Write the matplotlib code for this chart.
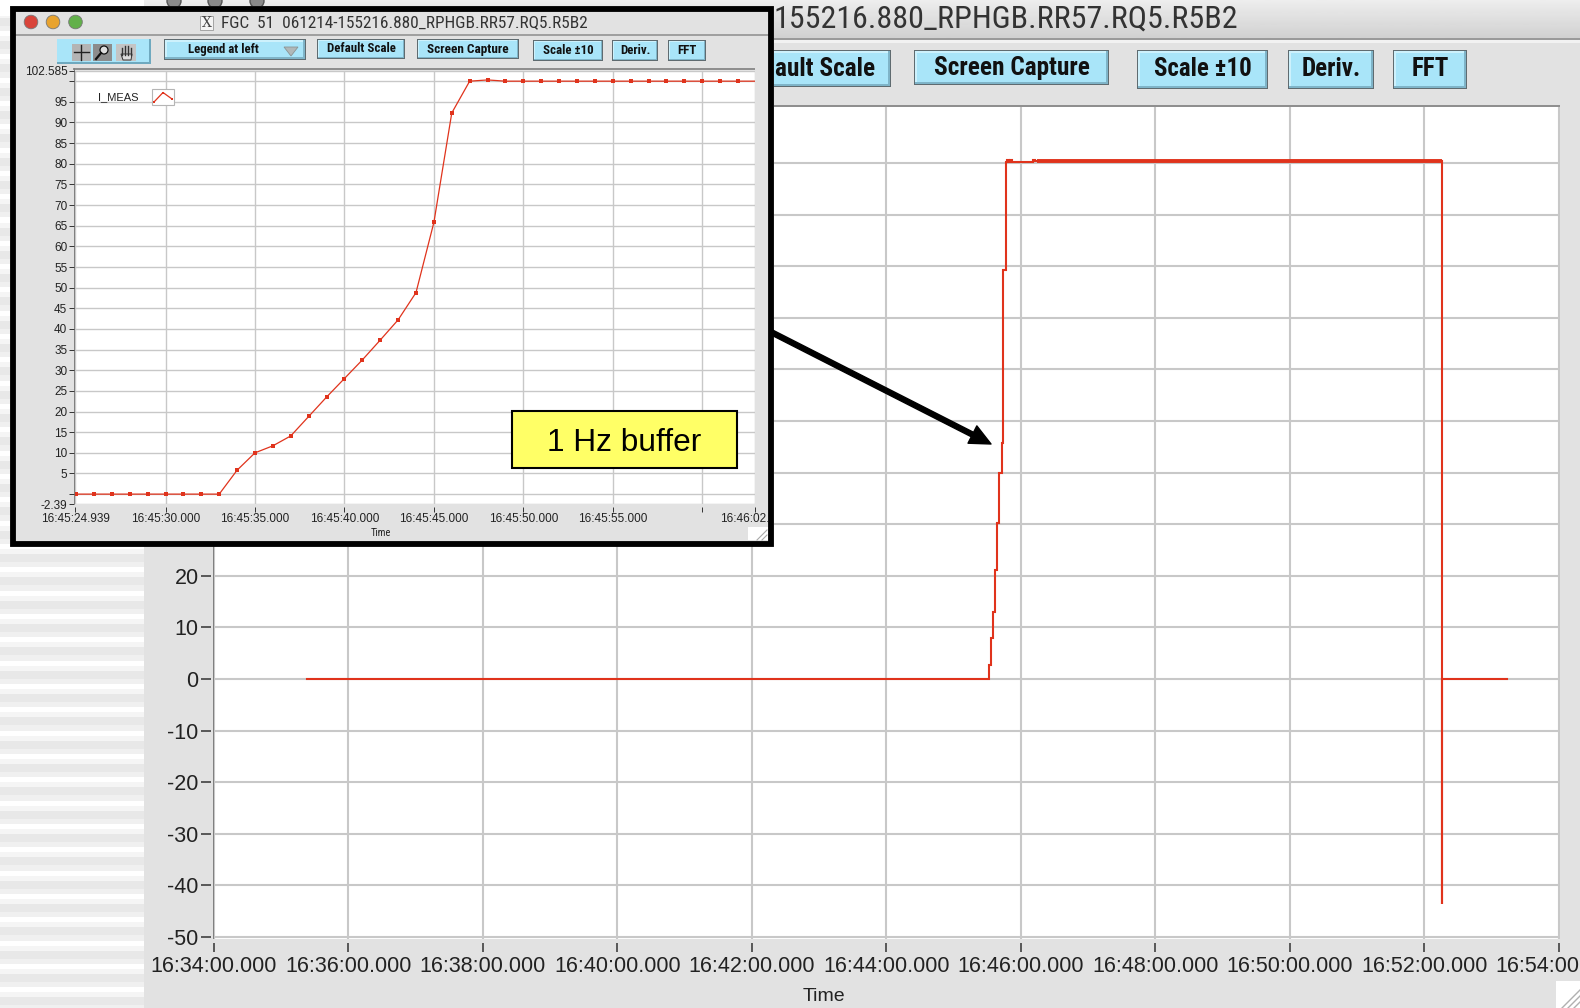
import numpy as np
import matplotlib
matplotlib.use('Agg')
import matplotlib.pyplot as plt
from matplotlib.patches import Rectangle, Circle, Polygon
from matplotlib.transforms import Bbox

plt.rcParams['font.family'] = ['Liberation Sans', 'DejaVu Sans']
NARROW = ['Roboto Condensed', 'Liberation Sans', 'DejaVu Sans']

W, H = 1580, 1008

# long record, seconds after 16:34:00
long_t = [83, 691.4, 693.7, 695.3, 696.8, 698.9, 700.6, 702.8, 704.4, 706.4, 707.5, 709.3, 710.6, 712.4, 715.5, 730.7, 732.5, 1096, 1096, 1154]
long_i = [0, 2.7, 7.9, 13, 21.1, 30.2, 40, 45.7, 79.3, 100.2, 100.6, 100.2, 100.6, 100.2, 100.2, 100.6, 100.4, -43.6, 0, 0]
thick_t = [734.3, 1096]
thick_i = [100.4, 100.4]

long_xticks = [0, 120, 240, 360, 480, 600, 720, 840, 960, 1080, 1200]
long_xlabels = ['16:34:00.000', '16:36:00.000', '16:38:00.000', '16:40:00.000', '16:42:00.000', '16:44:00.000',
                '16:46:00.000', '16:48:00.000', '16:50:00.000', '16:52:00.000', '16:54:00.000']
long_yticks = [-50, -40, -30, -20, -10, 0, 10, 20, 30, 40, 50, 60, 70, 80, 90, 100]
long_ylabels = ['-50', '-40', '-30', '-20', '-10', '0', '10', '20', '', '', '', '', '', '', '', '']

# 1 Hz buffer, seconds after 16:45:00
buf_t = [25, 26, 27, 28, 29, 30, 31, 32, 33, 34, 35, 36, 37, 38, 39, 40, 41, 42, 43, 44, 45, 46, 47, 48, 49, 50, 51, 52, 53, 54, 55, 56, 57, 58, 59, 60, 61, 62, 63]
buf_i = [0, 0, 0, 0, 0, 0, 0, 0, 0, 5.8, 10, 11.7, 14.1, 18.8, 23.5, 28, 32.5, 37.3, 42.2, 48.8, 65.8, 92.3, 100, 100.3, 100, 100, 100, 100, 100, 100, 100, 100, 100, 100, 100, 100, 100, 100, 100]

buf_xticks = [24.939, 30, 35, 40, 45, 50, 55, 60, 62.95]
buf_xlabels = ['16:45:24.939', '16:45:30.000', '16:45:35.000', '16:45:40.000', '16:45:45.000', '16:45:50.000',
               '16:45:55.000', '', '16:46:02.950']
buf_yticks = [-2.39, 0, 5, 10, 15, 20, 25, 30, 35, 40, 45, 50, 55, 60, 65, 70, 75, 80, 85, 90, 95, 100, 102.585]
buf_ylabels = ['-2.39', '', '5', '10', '15', '20', '25', '30', '35', '40', '45', '50', '55', '60', '65', '70', '75',
               '80', '85', '90', '95', '', '102.585']

RED = '#e0331c'
GRID = '#c8c8c8'
PANEL = '#e2e2e2'


def px_axes(x0, y0, x1, y1, z):
    return fig.add_axes([x0 / W, 1 - y1 / H, (x1 - x0) / W, (y1 - y0) / H], zorder=z)


def full_axes(z):
    a = px_axes(0, 0, W, H, z)
    a.set_xlim(0, W)
    a.set_ylim(H, 0)
    a.axis('off')
    a.patch.set_alpha(0)
    return a


def grad(a, x0, y0, x1, y1, v0, v1, vertical=False):
    g = np.linspace(v0, v1, 32)
    g = g[:, None] if vertical else g[None, :]
    a.imshow(g, extent=(x0, x1, y1, y0), aspect='auto', cmap='gray', vmin=0, vmax=1, interpolation='bilinear')
    a.set_xlim(0, W)
    a.set_ylim(H, 0)


def box(a, x0, y0, x1, y1, fc, ec='none', lw=0):
    a.add_patch(Rectangle((x0, y0), x1 - x0, y1 - y0, fc=fc, ec=ec, lw=lw))


def button(a, x0, y0, x1, y1, label, size, lab_x=None, bevel=2):
    box(a, x0, y0, x1, y1, '#5f6b70')
    box(a, x0 + 1, y0 + 1, x1 - 1, y1 - 1, '#7fb4c8')
    box(a, x0 + 1, y0 + 1, x1 - 1 - bevel, y1 - 1 - bevel, '#cdf1fc')
    box(a, x0 + 1 + bevel, y0 + 1 + bevel, x1 - 1 - bevel, y1 - 1 - bevel, '#a9e5f9')
    a.text((x0 + x1) / 2 if lab_x is None else lab_x, (y0 + y1) / 2, label, ha='center', va='center',
           fontsize=size, fontweight='bold', family=NARROW, color='#111111')


fig = plt.figure(figsize=(W / 100, H / 100), dpi=100, facecolor='white')

# desktop and the big window behind everything
back = full_axes(0)
for y in np.arange(-15.8, H, 23.33):
    box(back, 0, y, 144, y + 5, '#ffffff')
    box(back, 0, y + 5, 144, y + 10, '#f5f5f5')
    box(back, 0, y + 10, 144, y + 18, '#e8e8e8')
    box(back, 0, y + 18, 144, y + 23.33, '#f0f0f0')
box(back, 0, 0, 144, 16, '#ffffff')
grad(back, 144, 0, 1580, 38, 0.93, 0.82, vertical=True)
box(back, 144, 38, 1580, 40, '#9a9a9a')
box(back, 144, 40, 1580, 43, '#f2f2f2')
box(back, 144, 43, 1580, H, PANEL)
grad(back, 144, 43, 166, H, 0.97, 0.89)
grad(back, 1560, 42, 1580, H, 0.88, 0.66)
box(back, 212, 105, 1560, 108, '#8f8f8f')
box(back, 213, 105, 215, 939, '#808080')
box(back, 1556, 981, 1580, 1008, '#ffffff')
for d in (6, 12, 18):
    back.plot([1580 - d, 1580], [1008, 1008 - d], color='#b0b0b0', lw=1)
for cx in (174, 215, 257):
    back.add_patch(Circle((cx, 1), 7, fc='#8a8a8a', ec='#555555', lw=1))
back.text(773, 19, '155216.880_RPHGB.RR57.RQ5.R5B2', ha='left', va='center', fontsize=23, family=NARROW, color='#333333')
button(back, 770, 50, 891, 87, 'ault Scale', 18.3, lab_x=825)
button(back, 914, 50, 1109, 85, 'Screen Capture', 18.3)
button(back, 1137, 50, 1268, 89, 'Scale ±10', 18)
button(back, 1288, 50, 1374, 89, 'Deriv.', 18)
button(back, 1393, 50, 1467, 89, 'FFT', 18)

# long record
ax = px_axes(214, 107, 1560, 939, 1)
ax.set_xlim(0, 1201)
ax.set_ylim(-50.4, 110.85)
ax.grid(True, color=GRID, lw=1.5)
ax.set_axisbelow(True)
ax.plot(long_t, long_i, color=RED, lw=1.5, drawstyle='steps-post', solid_joinstyle='miter')
ax.plot(thick_t, thick_i, color=RED, lw=2.8, solid_capstyle='butt')
ax.set_xticks(long_xticks, long_xlabels)
ax.set_yticks(long_yticks, long_ylabels)
ax.tick_params(axis='x', length=6.5, width=1.1, color='#333333', labelsize=15.5, labelcolor='#222222', pad=3)
ax.tick_params(axis='y', length=7, width=1.1, color='#333333', labelsize=15.5, labelcolor='#222222', pad=2)
for s in ax.spines.values():
    s.set_visible(False)
ax.spines['bottom'].set_position(('outward', 3))
ax.spines['left'].set_position(('outward', 2))
ax.set_xlabel('Time', fontsize=14, color='#222222', labelpad=4)
ax.xaxis.set_label_coords((824 - 214) / 1346, -49 / 832)

# the small window on top
win = full_axes(2)
box(win, 10, 6, 774, 546, PANEL)
grad(win, 14, 12, 770, 36, 0.93, 0.82, vertical=True)
box(win, 14, 34, 770, 35.5, '#a0a0a0')
grad(win, 14, 36, 24, 540, 0.98, 0.89)
grad(win, 755, 36, 768, 540, 0.89, 0.66)
box(win, 73, 68, 755, 70, '#8f8f8f')
box(win, 73.5, 68, 75, 504, '#808080')
for cx, col in ((31, '#d9443a'), (53, '#e8a32e'), (75.5, '#62b04a')):
    win.add_patch(Circle((cx, 22), 6.8, fc=col, ec='#777777', lw=0.6))
box(win, 200, 16, 213, 30, '#f4f4f4', '#999999', 0.6)
win.text(206.5, 23, 'X', ha='center', va='center', fontsize=10, family='DejaVu Serif', color='#444444')
win.text(221, 23, 'FGC  51  061214-155216.880_RPHGB.RR57.RQ5.R5B2', ha='left', va='center', fontsize=12.4,
         family=NARROW, color='#333333')
box(win, 57, 39, 151, 64, '#6fa9bf')
box(win, 57, 39, 149, 62, '#a9e5f9')
for x0, x1, col in ((72, 91, '#b4b4b4'), (93, 112, '#8c8c8c'), (116, 136, '#c4c4c4')):
    box(win, x0, 44, x1, 61, col)
win.plot([74, 89], [52, 52], color='#222222', lw=1)
win.plot([81, 81], [45, 60], color='#222222', lw=1)
win.add_patch(Circle((104, 50), 4, fc='#dddddd', ec='#111111', lw=0.9))
win.plot([101, 96], [53, 59], color='#111111', lw=1.6)
# hand icon
for fx, fy in ((122, 48), (125, 46), (128, 46), (131, 48)):
    win.plot([fx, fx], [fy, 55], color='#333333', lw=1)
win.add_patch(Polygon([(121, 54), (132, 54), (131, 60), (123, 60)], fc='#dddddd', ec='#333333', lw=0.7))
button(win, 164, 39, 306, 60, '', 7)
win.text(223, 49, 'Legend at left', ha='center', va='center', fontsize=9.2, fontweight='bold', family=NARROW, color='#111111')
win.add_patch(Polygon([(284, 47), (298, 47), (291, 56)], fc='#b0b8b8', ec='#8a9494', lw=0.6))
button(win, 317, 39, 405, 59, 'Default Scale', 9.3, bevel=1)
button(win, 417, 39, 519, 59, 'Screen Capture', 9.5, bevel=1)
button(win, 533, 40, 603, 61, 'Scale ±10', 9.3, bevel=1)
button(win, 612, 40, 658, 61, 'Deriv.', 9.3, bevel=1)
button(win, 668, 40, 706, 61, 'FFT', 9.3, bevel=1)
box(win, 748, 527, 768, 540, '#ffffff')
for d in (5, 10):
    win.plot([767 - d, 767], [540, 540 - d], color='#a8a8a8', lw=0.8)

# 1 Hz buffer
axb = px_axes(75, 70.5, 755, 504, 3)
axb.set_xlim(24.939, 62.95)
axb.set_ylim(-2.39, 102.585)
axb.grid(True, color=GRID, lw=1)
axb.set_axisbelow(True)
axb.plot(buf_t, buf_i, color=RED, lw=0.9, marker='s', ms=2.2, mew=0, markevery=list(range(len(buf_t) - 1)))
axb.set_xticks(buf_xticks, buf_xlabels)
axb.set_yticks(buf_yticks, buf_ylabels)
axb.tick_params(axis='x', length=3.5, width=0.7, color='#333333', labelsize=8.5, labelcolor='#222222', pad=1)
axb.tick_params(axis='y', length=3.5, width=0.7, color='#333333', labelsize=8.5, labelcolor='#222222', pad=1)
for s in axb.spines.values():
    s.set_visible(False)
axb.spines['bottom'].set_position(('outward', 2))
axb.spines['left'].set_position(('outward', 1))
axb.set_xlabel('Time', fontsize=7.5, family=NARROW, color='#222222')
axb.xaxis.set_label_coords((381 - 75) / 680, -24 / 433.5)
for t in axb.get_xticklabels():
    t.set_clip_box(Bbox([[0, 0], [768, H]]))
    t.set_clip_on(True)

# legend, frame, arrow and the note
top = full_axes(4)
top.text(118, 97, 'I_MEAS', ha='center', va='center', fontsize=8, color='#222222')
box(top, 152, 89, 174, 105, '#ffffff', '#b5b5b5', 0.8)
top.plot([154, 163, 172], [102, 92.5, 99], color=RED, lw=0.9, marker='s', ms=2, mew=0)
box(top, 12.5, 8.5, 771, 543.5, 'none', '#000000', 4.2)
top.annotate('', xy=(991, 444), xytext=(771, 332),
             arrowprops=dict(facecolor='black', edgecolor='black', width=3.6, headwidth=14, headlength=15, shrink=0))
box(top, 511.5, 411, 737, 468, '#ffff66', '#000000', 1.5)
top.text(624, 443, '1 Hz buffer', ha='center', va='center', fontsize=22.8, color='#000000')

fig.savefig('out.png', dpi=100)
